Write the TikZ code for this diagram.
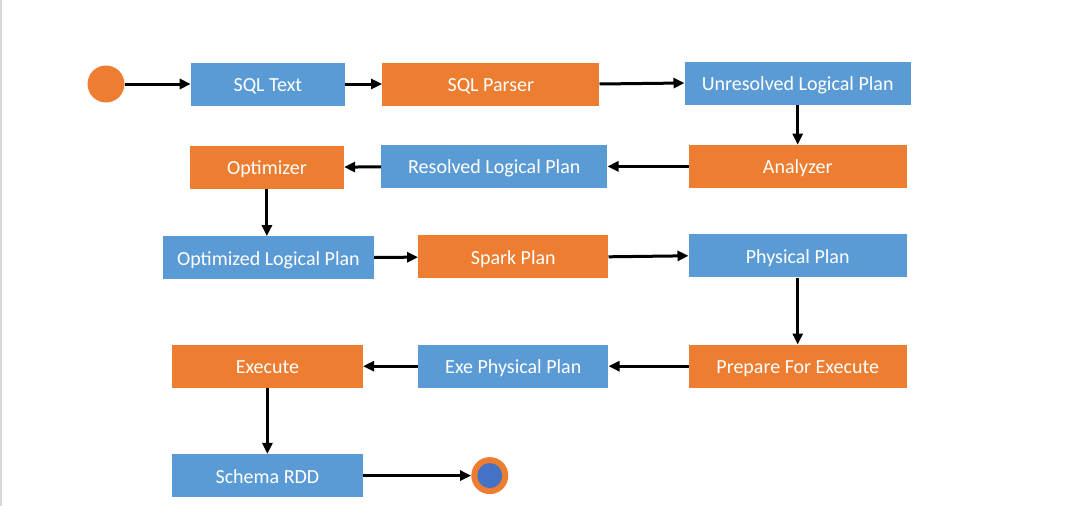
\documentclass[tikz,border=0pt]{standalone}
\usepackage{fontspec}
\setmainfont{Carlito}
\usetikzlibrary{positioning,arrows.meta}

\definecolor{planblue}{HTML}{5B9BD5}
\definecolor{planorange}{HTML}{ED7D31}
\definecolor{enddot}{HTML}{4472C4}

\tikzset{
    box/.style={minimum height=43pt, inner sep=0pt, text=white,
        text height=17pt, text depth=2pt,
        font=\fontsize{20}{24}\selectfont},
    bluebox/.style={box, fill=planblue},
    orangebox/.style={box, fill=planorange},
    flow/.style={-{Triangle[length=11pt,width=10pt]}, line width=3pt},
}

\begin{document}
\begin{tikzpicture}[x=1pt, y=-1pt]
            \useasboundingbox (0,0) rectangle (1080,506);
            \draw[black!15, line width=1.5pt] (1,0) -- (1,506);

            \node (start) [circle, fill=planorange, minimum size=37pt, inner sep=0pt] at (106,84) {};
            \node (sqltext) [bluebox, minimum width=154pt, right=66pt of start] {SQL Text};
            \node (sqlparser) [orangebox, minimum width=217pt, right=37pt of sqltext] {SQL Parser};
            \node (unresolved) [bluebox, minimum width=226pt, right=85pt of sqlparser, yshift=1pt] {Unresolved Logical Plan};
            \node (analyzer) [orangebox, minimum width=218pt, below=40pt of unresolved] {Analyzer};
            \node (resolved) [bluebox, minimum width=226pt, left=81pt of analyzer] {Resolved Logical Plan};
            \node (optimizer) [orangebox, minimum width=154pt, left=37pt of resolved, yshift=-1pt] {Optimizer};
            \node (optimized) [bluebox, minimum width=211pt, below=47pt of optimizer, xshift=1.5pt] {Optimized Logical Plan};
            \node (sparkplan) [orangebox, minimum width=190pt, right=44pt of optimized, yshift=1pt] {Spark Plan};
            \node (physical) [bluebox, minimum width=218pt, right=80pt of sparkplan, yshift=1pt] {Physical Plan};
            \node (prepare) [orangebox, minimum width=218pt, below=67pt of physical] {Prepare For Execute};
            \node (exephysical) [bluebox, minimum width=190pt, left=80pt of prepare] {Exe Physical Plan};
            \node (execute) [orangebox, minimum width=191pt, left=55pt of exephysical] {Execute};
            \node (schemardd) [bluebox, minimum width=191pt, below=66pt of execute] {Schema RDD};
            \node (stop) [circle, fill=planorange, minimum size=37pt, inner sep=0pt, right=108pt of schemardd] {};
            \node (stopdot) [circle, fill=enddot, minimum size=25pt, inner sep=0pt] at (stop) {};

            \draw[flow] (start) -- (sqltext);
            \draw[flow] (sqltext) -- (sqlparser);
            \draw[flow] (sqlparser.east) -- (unresolved.west);
            \draw[flow] (unresolved) -- (analyzer);
            \draw[flow] (analyzer) -- (resolved);
            \draw[flow] (resolved) -- (optimizer);
            \draw[flow] (optimizer.south) -- (optimizer.south |- optimized.north);
            \draw[flow] (optimized) -- (sparkplan);
            \draw[flow] (sparkplan.east) -- (physical.west);
            \draw[flow] (physical) -- (prepare);
            \draw[flow] (prepare) -- (exephysical);
            \draw[flow] (exephysical) -- (execute);
            \draw[flow] (execute) -- (schemardd);
            \draw[flow] (schemardd) -- (stop);
\end{tikzpicture}
\end{document}
